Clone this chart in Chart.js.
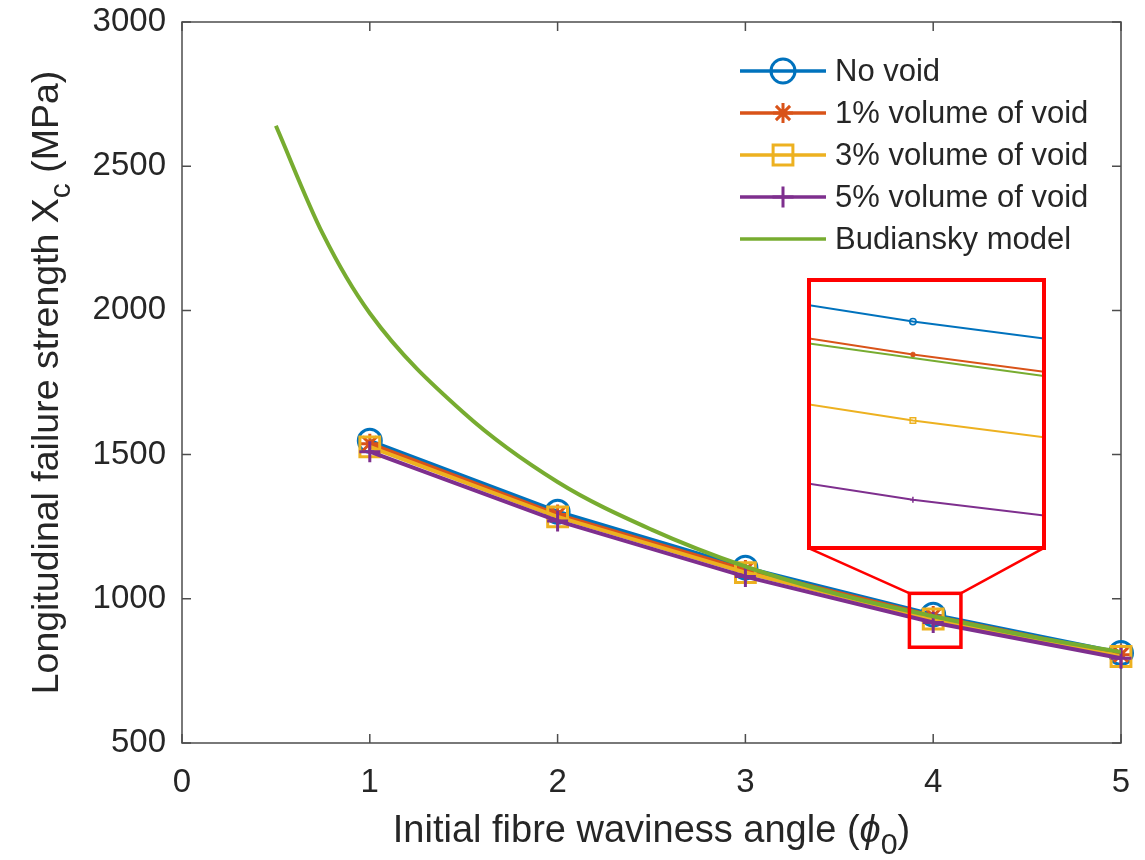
<!DOCTYPE html>
<html>
<head>
<meta charset="utf-8">
<title>Longitudinal failure strength vs fibre waviness</title>
<script src="https://cdn.jsdelivr.net/npm/chart.js@4.4.1/dist/chart.umd.min.js"></script>
<style>
	body { margin: 0; background: #fff; }
	#wrap { position: relative; width: 1145px; height: 860px; }
	#main { position: absolute; left: 0; top: 0; }
	#inset { position: absolute; box-sizing: border-box; border: 4px solid #ff0000; background: #fff; }
	#inset canvas { display: block; }
</style>
</head>
<body>
<div id="wrap">
	<canvas id="main" width="1145" height="860"></canvas>
	<div id="inset"><canvas id="zoom"></canvas></div>
</div>
<script>
// initial waviness angle (deg) and strength Xc (MPa) for each void content
var angles = [1, 2, 3, 4, 5];
var noVoid = [1548, 1302, 1108, 945, 812];
var void1 = [1538, 1292, 1100, 940, 806];
var void3 = [1527, 1284, 1091, 930, 800];
var void5 = [1510, 1270, 1077, 918, 794];

// Budiansky kinking model, sampled along the curve
var budianskyAngles = [0.5, 0.75, 1, 1.5, 2, 2.5, 3, 3.5, 4, 4.5, 5];
var budiansky = [2640, 2265, 1990, 1645, 1405, 1240, 1112, 1015, 939.5, 872, 815];

var xTicks = [0, 1, 2, 3, 4, 5];
var yTicks = [500, 1000, 1500, 2000, 2500, 3000];

// magnified window around phi0 = 4 and where the magnified view is placed (data units)
var zoomRegion = { x0: 3.864, x1: 4.157, y0: 826, y1: 1025 };
var insetFrame = { x0: 3.326, x1: 4.599, y0: 1169, y1: 2112 };
var insetRange = { x0: 3.985, x1: 4.019, y0: 911, y1: 951 };

var FONT = '"Liberation Sans", Arial, Helvetica, sans-serif';
var INK = "#262626";
var AXIS = "#4d4d4d";

var series = [
	{ label: "No void", values: noVoid, colour: "#0072BD", marker: "circle", radius: 11.5 },
	{ label: "1% volume of void", values: void1, colour: "#D95319", marker: "star", radius: 10 },
	{ label: "3% volume of void", values: void3, colour: "#EDB120", marker: "rect", radius: 14 },
	{ label: "5% volume of void", values: void5, colour: "#7E2F8E", marker: "cross", radius: 10.5 },
];
var model = { label: "Budiansky model", colour: "#77AC30" };

var points = function (xs, ys) {
	return xs.map(function (x, i) {
		return { x: x, y: ys[i] };
	});
};

var buildDatasets = function (lineWidth, scale) {
	var sets = series.map(function (s, i) {
		return {
			label: s.label,
			data: points(angles, s.values),
			borderColor: s.colour,
			backgroundColor: "rgba(0,0,0,0)",
			borderWidth: lineWidth,
			pointStyle: s.marker,
			pointRadius: s.radius * scale,
			pointHoverRadius: s.radius * scale,
			pointBorderWidth: scale < 1 ? 1.5 : 3,
			pointBorderColor: s.colour,
			pointBackgroundColor: "rgba(0,0,0,0)",
			tension: 0,
			clip: scale < 1 ? 0 : false,
			order: series.length - i,
		};
	});

	sets.push({
		label: model.label,
		data: points(budianskyAngles, budiansky),
		borderColor: model.colour,
		backgroundColor: "rgba(0,0,0,0)",
		borderWidth: lineWidth,
		pointRadius: 0,
		cubicInterpolationMode: "monotone",
		clip: scale < 1 ? 0 : undefined,
		order: 0,
	});

	return sets;
};

var drawMarker = function (ctx, style, x, y, r) {
	var d = r * Math.SQRT1_2;

	ctx.beginPath();
	if (style === "circle") {
		ctx.arc(x, y, r, 0, Math.PI * 2);
	} else if (style === "rect") {
		ctx.rect(x - d, y - d, 2 * d, 2 * d);
	} else if (style === "cross") {
		ctx.moveTo(x, y - r); ctx.lineTo(x, y + r);
		ctx.moveTo(x - r, y); ctx.lineTo(x + r, y);
	} else if (style === "star") {
		ctx.moveTo(x, y - r); ctx.lineTo(x, y + r);
		ctx.moveTo(x - r, y); ctx.lineTo(x + r, y);
		ctx.moveTo(x - d, y - d); ctx.lineTo(x + d, y + d);
		ctx.moveTo(x - d, y + d); ctx.lineTo(x + d, y - d);
	}
	ctx.stroke();
};

// draw a label made of plain, italic and subscript runs, centred on x
var richText = function (ctx, parts, x, y, size) {
	var fontFor = function (kind) {
		if (kind === "sub") return (size * 0.8) + "px " + FONT;
		if (kind === "it") return "italic " + size + "px " + FONT;
		return size + "px " + FONT;
	};
	var widths = parts.map(function (p) {
		ctx.font = fontFor(p[1]);
		return ctx.measureText(p[0]).width;
	});
	var total = widths.reduce(function (a, b) { return a + b; }, 0);
	var cx = x - total / 2;

	ctx.textAlign = "left";
	ctx.textBaseline = "alphabetic";
	parts.forEach(function (p, i) {
		ctx.font = fontFor(p[1]);
		ctx.fillText(p[0], cx, y + (p[1] === "sub" ? size * 0.32 : 0));
		cx += widths[i];
	});
};

var axesBox = {
	id: "axesBox",
	beforeDatasetsDraw: function (chart) {
		var ctx = chart.ctx;
		var a = chart.chartArea;
		var xs = chart.scales.x;
		var ys = chart.scales.y;
		var tick = 9;

		ctx.save();
		ctx.strokeStyle = AXIS;
		ctx.lineWidth = 1.5;
		ctx.strokeRect(a.left, a.top, a.right - a.left, a.bottom - a.top);

		ctx.beginPath();
		xTicks.forEach(function (v) {
			var px = xs.getPixelForValue(v);
			ctx.moveTo(px, a.bottom); ctx.lineTo(px, a.bottom - tick);
			ctx.moveTo(px, a.top); ctx.lineTo(px, a.top + tick);
		});
		yTicks.forEach(function (v) {
			var py = ys.getPixelForValue(v);
			ctx.moveTo(a.left, py); ctx.lineTo(a.left + tick, py);
			ctx.moveTo(a.right, py); ctx.lineTo(a.right - tick, py);
		});
		ctx.stroke();
		ctx.restore();
	},

	afterDraw: function (chart) {
		var ctx = chart.ctx;
		var a = chart.chartArea;
		var xs = chart.scales.x;
		var ys = chart.scales.y;

		ctx.save();

		// zoom window and the lines leading up to the magnified view
		var zx0 = xs.getPixelForValue(zoomRegion.x0);
		var zx1 = xs.getPixelForValue(zoomRegion.x1);
		var zy0 = ys.getPixelForValue(zoomRegion.y1);
		var zy1 = ys.getPixelForValue(zoomRegion.y0);
		var fx0 = xs.getPixelForValue(insetFrame.x0);
		var fx1 = xs.getPixelForValue(insetFrame.x1);
		var fy1 = ys.getPixelForValue(insetFrame.y0);

		ctx.strokeStyle = "#ff0000";
		ctx.lineWidth = 3.5;
		ctx.strokeRect(zx0 + 1.75, zy0 + 1.75, zx1 - zx0 - 3.5, zy1 - zy0 - 3.5);
		ctx.lineWidth = 2.5;
		ctx.beginPath();
		ctx.moveTo(fx0 + 2, fy1 - 2); ctx.lineTo(zx0 + 1.5, zy0 + 1.5);
		ctx.moveTo(fx1 - 2, fy1 - 2); ctx.lineTo(zx1 - 1.5, zy0 + 1.5);
		ctx.stroke();

		// legend
		var lx = a.right - 381;
		var ly = a.top + 49;
		var rows = series.concat([model]);
		ctx.font = "31px " + FONT;
		ctx.textAlign = "left";
		ctx.textBaseline = "middle";
		rows.forEach(function (s, i) {
			var y = ly + i * 42;
			ctx.strokeStyle = s.colour;
			ctx.lineWidth = 3.5;
			ctx.beginPath();
			ctx.moveTo(lx, y); ctx.lineTo(lx + 86, y);
			ctx.stroke();
			if (s.marker) {
				ctx.lineWidth = 3;
				drawMarker(ctx, s.marker, lx + 43, y, s.marker === "circle" ? 12 : s.radius);
			}
			ctx.fillStyle = INK;
			ctx.fillText(s.label, lx + 95, y + 1);
		});

		// axis titles
		ctx.fillStyle = INK;
		richText(ctx, [["Initial fibre waviness angle (", ""], ["\u03d5", "it"], ["0", "sub"], [")", ""]],
			(a.left + a.right) / 2, 842, 38);

		ctx.translate(58, (a.top + a.bottom) / 2);
		ctx.rotate(-Math.PI / 2);
		richText(ctx, [["Longitudinal failure strength X", ""], ["c", "sub"], [" (MPa)", ""]], 0, 0, 37.5);

		ctx.restore();
	},
};

var tickFont = { family: FONT, size: 33 };
var plainLabel = function (value) {
	return String(value);
};

var main = new Chart(document.getElementById("main"), {
	type: "line",
	data: { datasets: buildDatasets(4, 1) },
	options: {
		responsive: false,
		animation: false,
		devicePixelRatio: 1,
		layout: { padding: { top: 22, right: 24, left: 0, bottom: 0 } },
		plugins: { legend: { display: false }, tooltip: { enabled: false } },
		scales: {
			x: {
				type: "linear",
				min: 0,
				max: 5,
				afterBuildTicks: function (scale) {
					scale.ticks = xTicks.map(function (v) { return { value: v }; });
				},
				afterFit: function (scale) {
					scale.height = 117;
					scale.paddingLeft = 0;
					scale.paddingRight = 0;
				},
				grid: { display: false, drawTicks: false },
				border: { display: false },
				ticks: { font: tickFont, color: INK, padding: 20, maxRotation: 0, autoSkip: false, callback: plainLabel },
			},
			y: {
				type: "linear",
				min: 500,
				max: 3000,
				afterBuildTicks: function (scale) {
					scale.ticks = yTicks.map(function (v) { return { value: v }; });
				},
				afterFit: function (scale) {
					scale.width = 182;
					scale.paddingTop = 0;
					scale.paddingBottom = 0;
				},
				grid: { display: false, drawTicks: false },
				border: { display: false },
				ticks: { font: tickFont, color: INK, padding: 16, autoSkip: false, callback: plainLabel },
			},
		},
	},
	plugins: [axesBox],
});

// place the magnified view and draw it through its own scales
var placeInset = function (chart) {
	var xs = chart.scales.x;
	var ys = chart.scales.y;
	var x0 = xs.getPixelForValue(insetFrame.x0);
	var x1 = xs.getPixelForValue(insetFrame.x1);
	var y0 = ys.getPixelForValue(insetFrame.y1);
	var y1 = ys.getPixelForValue(insetFrame.y0);
	var box = document.getElementById("inset");
	var canvas = document.getElementById("zoom");

	box.style.left = x0 + "px";
	box.style.top = y0 + "px";
	box.style.width = (x1 - x0) + "px";
	box.style.height = (y1 - y0) + "px";
	canvas.width = Math.round(x1 - x0) - 8;
	canvas.height = Math.round(y1 - y0) - 8;

	return new Chart(canvas, {
		type: "line",
		data: { datasets: buildDatasets(2, 0.28) },
		options: {
			responsive: false,
			animation: false,
			devicePixelRatio: 1,
			layout: { padding: 0, autoPadding: false },
			plugins: { legend: { display: false }, tooltip: { enabled: false } },
			scales: {
				x: { type: "linear", display: false, min: insetRange.x0, max: insetRange.x1 },
				y: { type: "linear", display: false, min: insetRange.y0, max: insetRange.y1 },
			},
		},
	});
};

placeInset(main);
</script>
</body>
</html>
